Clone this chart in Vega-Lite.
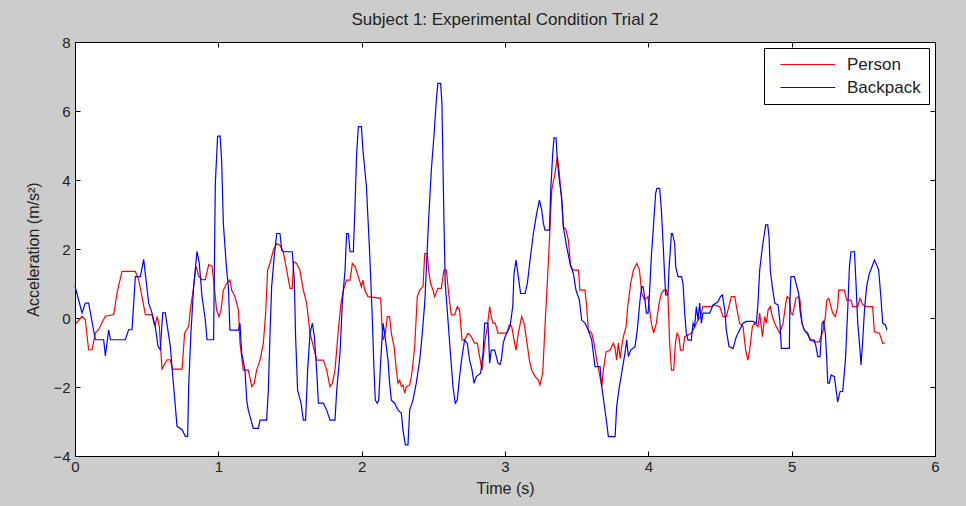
{
  "$schema": "https://vega.github.io/schema/vega-lite/v6.json",
  "width": 860,
  "height": 414,
  "autosize": {"type": "none"},
  "padding": {"left": 75, "top": 42, "right": 31, "bottom": 50},
  "background": "#cccccc",
  "title": {"text": "Subject 1: Experimental Condition Trial 2", "font": "Liberation Sans", "fontSize": 17, "fontWeight": "normal", "color": "#222222", "offset": 6, "anchor": "middle"},
  "config": {
    "view": {"fill": "white", "stroke": "black", "strokeWidth": 1},
    "axis": {"grid": false, "domainColor": "black", "tickColor": "black", "labelColor": "#222222", "titleColor": "#222222", "labelFont": "Liberation Sans", "titleFont": "Liberation Sans", "labelFontSize": 15, "titleFontSize": 16, "titleFontWeight": "normal", "tickSize": -5, "labelFlush": false, "labelOverlap": false}
  },
  "data": {"values": [
    {"s":"Person","t":0.007,"v":-0.16},{"s":"Person","t":0.049,"v":0.05},{"s":"Person","t":0.072,"v":-0.05},{"s":"Person","t":0.095,"v":-0.92},{"s":"Person","t":0.119,"v":-0.92},{"s":"Person","t":0.142,"v":-0.43},{"s":"Person","t":0.165,"v":-0.34},{"s":"Person","t":0.188,"v":-0.14},{"s":"Person","t":0.212,"v":0.05},{"s":"Person","t":0.27,"v":0.1},{"s":"Person","t":0.293,"v":0.72},{"s":"Person","t":0.328,"v":1.35},{"s":"Person","t":0.421,"v":1.35},{"s":"Person","t":0.444,"v":1.11},{"s":"Person","t":0.467,"v":0.63},{"s":"Person","t":0.491,"v":0.1},{"s":"Person","t":0.537,"v":0.1},{"s":"Person","t":0.556,"v":-0.24},{"s":"Person","t":0.574,"v":0.05},{"s":"Person","t":0.588,"v":-0.24},{"s":"Person","t":0.607,"v":-1.48},{"s":"Person","t":0.642,"v":-1.21},{"s":"Person","t":0.665,"v":-1.21},{"s":"Person","t":0.681,"v":-1.48},{"s":"Person","t":0.747,"v":-1.48},{"s":"Person","t":0.765,"v":-0.43},{"s":"Person","t":0.793,"v":-0.24},{"s":"Person","t":0.805,"v":0.24},{"s":"Person","t":0.828,"v":0.92},{"s":"Person","t":0.844,"v":1.5},{"s":"Person","t":0.863,"v":1.21},{"s":"Person","t":0.886,"v":1.11},{"s":"Person","t":0.909,"v":1.11},{"s":"Person","t":0.933,"v":1.55},{"s":"Person","t":0.956,"v":1.5},{"s":"Person","t":0.972,"v":0.9},{"s":"Person","t":0.988,"v":0.23},{"s":"Person","t":1.005,"v":0.04},{"s":"Person","t":1.019,"v":0.23},{"s":"Person","t":1.035,"v":0.81},{"s":"Person","t":1.058,"v":1.0},{"s":"Person","t":1.081,"v":1.1},{"s":"Person","t":1.093,"v":0.81},{"s":"Person","t":1.116,"v":0.62},{"s":"Person","t":1.14,"v":0.23},{"s":"Person","t":1.151,"v":-0.73},{"s":"Person","t":1.163,"v":-1.12},{"s":"Person","t":1.174,"v":-1.51},{"s":"Person","t":1.209,"v":-1.51},{"s":"Person","t":1.233,"v":-1.99},{"s":"Person","t":1.251,"v":-1.89},{"s":"Person","t":1.267,"v":-1.51},{"s":"Person","t":1.291,"v":-1.22},{"s":"Person","t":1.314,"v":-0.73},{"s":"Person","t":1.33,"v":0.14},{"s":"Person","t":1.344,"v":1.39},{"s":"Person","t":1.36,"v":1.58},{"s":"Person","t":1.384,"v":1.97},{"s":"Person","t":1.407,"v":2.16},{"s":"Person","t":1.43,"v":2.11},{"s":"Person","t":1.453,"v":1.92},{"s":"Person","t":1.477,"v":1.39},{"s":"Person","t":1.5,"v":0.86},{"s":"Person","t":1.516,"v":0.86},{"s":"Person","t":1.525,"v":1.63},{"s":"Person","t":1.546,"v":1.58},{"s":"Person","t":1.569,"v":1.39},{"s":"Person","t":1.593,"v":0.81},{"s":"Person","t":1.616,"v":0.43},{"s":"Person","t":1.64,"v":-0.44},{"s":"Person","t":1.663,"v":-0.83},{"s":"Person","t":1.686,"v":-1.22},{"s":"Person","t":1.733,"v":-1.22},{"s":"Person","t":1.756,"v":-1.51},{"s":"Person","t":1.779,"v":-1.99},{"s":"Person","t":1.796,"v":-1.89},{"s":"Person","t":1.814,"v":-1.51},{"s":"Person","t":1.837,"v":-0.35},{"s":"Person","t":1.856,"v":0.43},{"s":"Person","t":1.872,"v":0.81},{"s":"Person","t":1.895,"v":1.1},{"s":"Person","t":1.919,"v":1.1},{"s":"Person","t":1.935,"v":1.58},{"s":"Person","t":1.954,"v":1.49},{"s":"Person","t":1.977,"v":1.2},{"s":"Person","t":1.998,"v":0.91},{"s":"Person","t":2.009,"v":1.1},{"s":"Person","t":2.021,"v":0.81},{"s":"Person","t":2.044,"v":0.62},{"s":"Person","t":2.133,"v":0.57},{"s":"Person","t":2.142,"v":-0.25},{"s":"Person","t":2.149,"v":-0.64},{"s":"Person","t":2.165,"v":-0.44},{"s":"Person","t":2.179,"v":0.04},{"s":"Person","t":2.195,"v":0.04},{"s":"Person","t":2.207,"v":-0.44},{"s":"Person","t":2.226,"v":-0.83},{"s":"Person","t":2.242,"v":-1.51},{"s":"Person","t":2.254,"v":-1.89},{"s":"Person","t":2.265,"v":-1.8},{"s":"Person","t":2.277,"v":-1.99},{"s":"Person","t":2.288,"v":-1.94},{"s":"Person","t":2.3,"v":-2.18},{"s":"Person","t":2.312,"v":-1.99},{"s":"Person","t":2.335,"v":-1.94},{"s":"Person","t":2.347,"v":-1.7},{"s":"Person","t":2.358,"v":-1.31},{"s":"Person","t":2.37,"v":-0.83},{"s":"Person","t":2.388,"v":0.62},{"s":"Person","t":2.405,"v":0.81},{"s":"Person","t":2.428,"v":0.91},{"s":"Person","t":2.44,"v":1.87},{"s":"Person","t":2.458,"v":1.87},{"s":"Person","t":2.467,"v":1.39},{"s":"Person","t":2.481,"v":1.0},{"s":"Person","t":2.498,"v":0.81},{"s":"Person","t":2.509,"v":0.62},{"s":"Person","t":2.532,"v":0.86},{"s":"Person","t":2.556,"v":0.86},{"s":"Person","t":2.574,"v":1.39},{"s":"Person","t":2.591,"v":1.39},{"s":"Person","t":2.607,"v":0.71},{"s":"Person","t":2.625,"v":0.09},{"s":"Person","t":2.649,"v":0.09},{"s":"Person","t":2.667,"v":0.33},{"s":"Person","t":2.683,"v":0.23},{"s":"Person","t":2.7,"v":-0.64},{"s":"Person","t":2.718,"v":-0.64},{"s":"Person","t":2.742,"v":-0.44},{"s":"Person","t":2.765,"v":-0.54},{"s":"Person","t":2.788,"v":-0.73},{"s":"Person","t":2.807,"v":-0.73},{"s":"Person","t":2.823,"v":-1.12},{"s":"Person","t":2.84,"v":-1.51},{"s":"Person","t":2.858,"v":-0.73},{"s":"Person","t":2.877,"v":-0.25},{"s":"Person","t":2.893,"v":0.33},{"s":"Person","t":2.904,"v":0.04},{"s":"Person","t":2.916,"v":-0.15},{"s":"Person","t":2.932,"v":-0.15},{"s":"Person","t":2.951,"v":-0.44},{"s":"Person","t":3.012,"v":-0.44},{"s":"Person","t":3.03,"v":-0.2},{"s":"Person","t":3.047,"v":-0.25},{"s":"Person","t":3.063,"v":-0.64},{"s":"Person","t":3.077,"v":-0.93},{"s":"Person","t":3.093,"v":-0.44},{"s":"Person","t":3.116,"v":0.04},{"s":"Person","t":3.133,"v":-0.15},{"s":"Person","t":3.151,"v":-0.64},{"s":"Person","t":3.17,"v":-1.22},{"s":"Person","t":3.186,"v":-1.51},{"s":"Person","t":3.21,"v":-1.7},{"s":"Person","t":3.233,"v":-1.8},{"s":"Person","t":3.244,"v":-1.94},{"s":"Person","t":3.263,"v":-1.6},{"s":"Person","t":3.279,"v":-0.25},{"s":"Person","t":3.296,"v":1.1},{"s":"Person","t":3.31,"v":2.26},{"s":"Person","t":3.326,"v":3.71},{"s":"Person","t":3.349,"v":4.19},{"s":"Person","t":3.365,"v":4.68},{"s":"Person","t":3.379,"v":4.19},{"s":"Person","t":3.395,"v":3.42},{"s":"Person","t":3.407,"v":2.65},{"s":"Person","t":3.426,"v":2.55},{"s":"Person","t":3.442,"v":2.26},{"s":"Person","t":3.458,"v":1.49},{"s":"Person","t":3.477,"v":1.39},{"s":"Person","t":3.512,"v":1.39},{"s":"Person","t":3.523,"v":0.81},{"s":"Person","t":3.558,"v":0.81},{"s":"Person","t":3.57,"v":0.33},{"s":"Person","t":3.581,"v":-0.35},{"s":"Person","t":3.605,"v":-0.44},{"s":"Person","t":3.621,"v":-0.73},{"s":"Person","t":3.64,"v":-1.22},{"s":"Person","t":3.658,"v":-1.6},{"s":"Person","t":3.675,"v":-1.99},{"s":"Person","t":3.686,"v":-1.51},{"s":"Person","t":3.705,"v":-0.98},{"s":"Person","t":3.733,"v":-0.93},{"s":"Person","t":3.756,"v":-0.73},{"s":"Person","t":3.768,"v":-0.88},{"s":"Person","t":3.779,"v":-1.22},{"s":"Person","t":3.791,"v":-0.73},{"s":"Person","t":3.803,"v":-1.17},{"s":"Person","t":3.814,"v":-0.83},{"s":"Person","t":3.826,"v":-0.54},{"s":"Person","t":3.845,"v":-0.25},{"s":"Person","t":3.856,"v":0.33},{"s":"Person","t":3.877,"v":1.0},{"s":"Person","t":3.896,"v":1.39},{"s":"Person","t":3.919,"v":1.58},{"s":"Person","t":3.938,"v":1.39},{"s":"Person","t":3.954,"v":0.71},{"s":"Person","t":3.974,"v":0.52},{"s":"Person","t":3.998,"v":0.62},{"s":"Person","t":4.009,"v":0.23},{"s":"Person","t":4.021,"v":-0.15},{"s":"Person","t":4.037,"v":-0.44},{"s":"Person","t":4.056,"v":-0.15},{"s":"Person","t":4.075,"v":0.43},{"s":"Person","t":4.091,"v":0.71},{"s":"Person","t":4.107,"v":0.81},{"s":"Person","t":4.126,"v":0.81},{"s":"Person","t":4.137,"v":0.62},{"s":"Person","t":4.149,"v":-0.73},{"s":"Person","t":4.161,"v":-1.51},{"s":"Person","t":4.177,"v":-1.51},{"s":"Person","t":4.189,"v":-0.73},{"s":"Person","t":4.2,"v":-0.44},{"s":"Person","t":4.214,"v":-0.54},{"s":"Person","t":4.224,"v":-0.93},{"s":"Person","t":4.242,"v":-0.93},{"s":"Person","t":4.254,"v":-0.54},{"s":"Person","t":4.3,"v":-0.44},{"s":"Person","t":4.312,"v":-0.35},{"s":"Person","t":4.335,"v":-0.15},{"s":"Person","t":4.363,"v":0.04},{"s":"Person","t":4.381,"v":0.33},{"s":"Person","t":4.44,"v":0.33},{"s":"Person","t":4.463,"v":0.38},{"s":"Person","t":4.498,"v":0.33},{"s":"Person","t":4.521,"v":0.04},{"s":"Person","t":4.544,"v":0.04},{"s":"Person","t":4.568,"v":0.43},{"s":"Person","t":4.579,"v":0.62},{"s":"Person","t":4.603,"v":0.62},{"s":"Person","t":4.619,"v":0.23},{"s":"Person","t":4.637,"v":-0.15},{"s":"Person","t":4.661,"v":-0.25},{"s":"Person","t":4.679,"v":-0.93},{"s":"Person","t":4.695,"v":-1.22},{"s":"Person","t":4.707,"v":-0.93},{"s":"Person","t":4.726,"v":-0.25},{"s":"Person","t":4.742,"v":-0.15},{"s":"Person","t":4.765,"v":-0.25},{"s":"Person","t":4.777,"v":0.14},{"s":"Person","t":4.796,"v":-0.54},{"s":"Person","t":4.812,"v":0.04},{"s":"Person","t":4.824,"v":-0.15},{"s":"Person","t":4.835,"v":0.23},{"s":"Person","t":4.851,"v":0.33},{"s":"Person","t":4.865,"v":0.04},{"s":"Person","t":4.882,"v":-0.15},{"s":"Person","t":4.893,"v":-0.25},{"s":"Person","t":4.917,"v":-0.44},{"s":"Person","t":4.94,"v":-0.15},{"s":"Person","t":4.959,"v":0.43},{"s":"Person","t":4.968,"v":0.62},{"s":"Person","t":4.984,"v":0.57},{"s":"Person","t":4.995,"v":0.14},{"s":"Person","t":5.007,"v":0.09},{"s":"Person","t":5.018,"v":0.33},{"s":"Person","t":5.03,"v":0.57},{"s":"Person","t":5.049,"v":0.62},{"s":"Person","t":5.058,"v":0.52},{"s":"Person","t":5.072,"v":-0.15},{"s":"Person","t":5.088,"v":-0.35},{"s":"Person","t":5.105,"v":-0.44},{"s":"Person","t":5.119,"v":-0.54},{"s":"Person","t":5.135,"v":-0.64},{"s":"Person","t":5.158,"v":-0.69},{"s":"Person","t":5.193,"v":-0.69},{"s":"Person","t":5.205,"v":-0.54},{"s":"Person","t":5.221,"v":-0.35},{"s":"Person","t":5.235,"v":0.04},{"s":"Person","t":5.245,"v":0.52},{"s":"Person","t":5.259,"v":0.57},{"s":"Person","t":5.268,"v":0.43},{"s":"Person","t":5.286,"v":0.14},{"s":"Person","t":5.305,"v":0.04},{"s":"Person","t":5.321,"v":0.33},{"s":"Person","t":5.328,"v":0.81},{"s":"Person","t":5.368,"v":0.81},{"s":"Person","t":5.384,"v":0.52},{"s":"Person","t":5.414,"v":0.52},{"s":"Person","t":5.426,"v":0.33},{"s":"Person","t":5.461,"v":0.33},{"s":"Person","t":5.477,"v":0.57},{"s":"Person","t":5.496,"v":0.38},{"s":"Person","t":5.519,"v":0.33},{"s":"Person","t":5.565,"v":0.33},{"s":"Person","t":5.577,"v":-0.4},{"s":"Person","t":5.612,"v":-0.44},{"s":"Person","t":5.635,"v":-0.73},{"s":"Person","t":5.65,"v":-0.73},
    {"s":"Backpack","t":0.0,"v":0.92},{"s":"Backpack","t":0.049,"v":0.15},{"s":"Backpack","t":0.072,"v":0.43},{"s":"Backpack","t":0.095,"v":0.43},{"s":"Backpack","t":0.142,"v":-0.63},{"s":"Backpack","t":0.2,"v":-0.63},{"s":"Backpack","t":0.212,"v":-1.1},{"s":"Backpack","t":0.235,"v":-0.34},{"s":"Backpack","t":0.247,"v":-0.63},{"s":"Backpack","t":0.351,"v":-0.63},{"s":"Backpack","t":0.374,"v":-0.34},{"s":"Backpack","t":0.398,"v":-0.34},{"s":"Backpack","t":0.421,"v":1.2},{"s":"Backpack","t":0.456,"v":1.2},{"s":"Backpack","t":0.479,"v":1.7},{"s":"Backpack","t":0.514,"v":0.43},{"s":"Backpack","t":0.537,"v":0.15},{"s":"Backpack","t":0.56,"v":-0.24},{"s":"Backpack","t":0.579,"v":-0.82},{"s":"Backpack","t":0.595,"v":-0.92},{"s":"Backpack","t":0.612,"v":0.15},{"s":"Backpack","t":0.63,"v":0.15},{"s":"Backpack","t":0.665,"v":-0.82},{"s":"Backpack","t":0.688,"v":-1.98},{"s":"Backpack","t":0.712,"v":-3.14},{"s":"Backpack","t":0.747,"v":-3.24},{"s":"Backpack","t":0.77,"v":-3.43},{"s":"Backpack","t":0.786,"v":-3.43},{"s":"Backpack","t":0.793,"v":-1.98},{"s":"Backpack","t":0.809,"v":-0.43},{"s":"Backpack","t":0.828,"v":0.92},{"s":"Backpack","t":0.851,"v":1.93},{"s":"Backpack","t":0.867,"v":1.59},{"s":"Backpack","t":0.886,"v":0.63},{"s":"Backpack","t":0.909,"v":-0.05},{"s":"Backpack","t":0.921,"v":-0.63},{"s":"Backpack","t":0.967,"v":-0.63},{"s":"Backpack","t":0.979,"v":3.9},{"s":"Backpack","t":0.995,"v":5.27},{"s":"Backpack","t":1.012,"v":5.28},{"s":"Backpack","t":1.023,"v":4.58},{"s":"Backpack","t":1.035,"v":2.74},{"s":"Backpack","t":1.058,"v":1.39},{"s":"Backpack","t":1.07,"v":0.91},{"s":"Backpack","t":1.081,"v":-0.35},{"s":"Backpack","t":1.14,"v":-0.35},{"s":"Backpack","t":1.151,"v":-0.15},{"s":"Backpack","t":1.163,"v":-1.02},{"s":"Backpack","t":1.186,"v":-1.51},{"s":"Backpack","t":1.198,"v":-2.38},{"s":"Backpack","t":1.209,"v":-2.67},{"s":"Backpack","t":1.244,"v":-3.2},{"s":"Backpack","t":1.279,"v":-3.2},{"s":"Backpack","t":1.291,"v":-2.96},{"s":"Backpack","t":1.337,"v":-2.96},{"s":"Backpack","t":1.349,"v":-2.09},{"s":"Backpack","t":1.36,"v":-0.54},{"s":"Backpack","t":1.372,"v":0.91},{"s":"Backpack","t":1.39,"v":1.78},{"s":"Backpack","t":1.407,"v":2.45},{"s":"Backpack","t":1.43,"v":2.45},{"s":"Backpack","t":1.442,"v":1.97},{"s":"Backpack","t":1.453,"v":1.92},{"s":"Backpack","t":1.516,"v":1.92},{"s":"Backpack","t":1.53,"v":1.1},{"s":"Backpack","t":1.539,"v":-0.54},{"s":"Backpack","t":1.553,"v":-2.09},{"s":"Backpack","t":1.577,"v":-2.47},{"s":"Backpack","t":1.593,"v":-2.96},{"s":"Backpack","t":1.609,"v":-2.96},{"s":"Backpack","t":1.623,"v":-1.51},{"s":"Backpack","t":1.64,"v":-0.44},{"s":"Backpack","t":1.656,"v":-0.15},{"s":"Backpack","t":1.67,"v":-0.54},{"s":"Backpack","t":1.686,"v":-1.51},{"s":"Backpack","t":1.698,"v":-2.47},{"s":"Backpack","t":1.733,"v":-2.47},{"s":"Backpack","t":1.756,"v":-2.67},{"s":"Backpack","t":1.779,"v":-2.96},{"s":"Backpack","t":1.814,"v":-2.96},{"s":"Backpack","t":1.826,"v":-2.09},{"s":"Backpack","t":1.849,"v":-1.02},{"s":"Backpack","t":1.865,"v":0.43},{"s":"Backpack","t":1.884,"v":1.39},{"s":"Backpack","t":1.895,"v":2.45},{"s":"Backpack","t":1.907,"v":2.45},{"s":"Backpack","t":1.919,"v":1.92},{"s":"Backpack","t":1.942,"v":1.92},{"s":"Backpack","t":1.954,"v":3.32},{"s":"Backpack","t":1.965,"v":4.77},{"s":"Backpack","t":1.977,"v":5.55},{"s":"Backpack","t":1.998,"v":5.55},{"s":"Backpack","t":2.009,"v":4.87},{"s":"Backpack","t":2.033,"v":3.81},{"s":"Backpack","t":2.056,"v":1.87},{"s":"Backpack","t":2.072,"v":0.23},{"s":"Backpack","t":2.086,"v":-1.51},{"s":"Backpack","t":2.095,"v":-2.38},{"s":"Backpack","t":2.109,"v":-2.47},{"s":"Backpack","t":2.119,"v":-2.38},{"s":"Backpack","t":2.133,"v":-1.22},{"s":"Backpack","t":2.149,"v":-0.15},{"s":"Backpack","t":2.16,"v":-0.44},{"s":"Backpack","t":2.184,"v":-1.22},{"s":"Backpack","t":2.195,"v":-1.89},{"s":"Backpack","t":2.207,"v":-2.38},{"s":"Backpack","t":2.23,"v":-2.47},{"s":"Backpack","t":2.254,"v":-2.67},{"s":"Backpack","t":2.277,"v":-2.76},{"s":"Backpack","t":2.288,"v":-3.25},{"s":"Backpack","t":2.305,"v":-3.68},{"s":"Backpack","t":2.323,"v":-3.68},{"s":"Backpack","t":2.335,"v":-2.67},{"s":"Backpack","t":2.358,"v":-2.38},{"s":"Backpack","t":2.381,"v":-1.89},{"s":"Backpack","t":2.405,"v":-1.22},{"s":"Backpack","t":2.421,"v":-0.54},{"s":"Backpack","t":2.44,"v":0.43},{"s":"Backpack","t":2.451,"v":1.39},{"s":"Backpack","t":2.467,"v":2.84},{"s":"Backpack","t":2.486,"v":4.29},{"s":"Backpack","t":2.504,"v":5.26},{"s":"Backpack","t":2.521,"v":6.32},{"s":"Backpack","t":2.532,"v":6.8},{"s":"Backpack","t":2.551,"v":6.8},{"s":"Backpack","t":2.56,"v":6.22},{"s":"Backpack","t":2.574,"v":2.84},{"s":"Backpack","t":2.583,"v":1.0},{"s":"Backpack","t":2.597,"v":0.23},{"s":"Backpack","t":2.614,"v":-0.73},{"s":"Backpack","t":2.637,"v":-1.99},{"s":"Backpack","t":2.653,"v":-2.47},{"s":"Backpack","t":2.667,"v":-2.38},{"s":"Backpack","t":2.683,"v":-1.7},{"s":"Backpack","t":2.7,"v":-1.12},{"s":"Backpack","t":2.718,"v":-0.64},{"s":"Backpack","t":2.737,"v":-0.73},{"s":"Backpack","t":2.753,"v":-1.22},{"s":"Backpack","t":2.77,"v":-1.51},{"s":"Backpack","t":2.784,"v":-1.89},{"s":"Backpack","t":2.8,"v":-1.7},{"s":"Backpack","t":2.83,"v":-1.6},{"s":"Backpack","t":2.847,"v":-1.02},{"s":"Backpack","t":2.858,"v":-0.15},{"s":"Backpack","t":2.881,"v":-0.15},{"s":"Backpack","t":2.893,"v":-1.31},{"s":"Backpack","t":2.904,"v":-0.93},{"s":"Backpack","t":2.928,"v":-0.93},{"s":"Backpack","t":2.951,"v":-1.31},{"s":"Backpack","t":2.965,"v":-1.35},{"s":"Backpack","t":2.974,"v":-1.22},{"s":"Backpack","t":2.988,"v":-0.73},{"s":"Backpack","t":3.0,"v":-0.55},{"s":"Backpack","t":3.012,"v":-0.44},{"s":"Backpack","t":3.035,"v":-0.25},{"s":"Backpack","t":3.054,"v":0.33},{"s":"Backpack","t":3.063,"v":1.29},{"s":"Backpack","t":3.077,"v":1.68},{"s":"Backpack","t":3.093,"v":1.2},{"s":"Backpack","t":3.109,"v":0.71},{"s":"Backpack","t":3.14,"v":0.71},{"s":"Backpack","t":3.156,"v":1.0},{"s":"Backpack","t":3.175,"v":1.68},{"s":"Backpack","t":3.198,"v":2.45},{"s":"Backpack","t":3.221,"v":3.03},{"s":"Backpack","t":3.24,"v":3.42},{"s":"Backpack","t":3.256,"v":3.13},{"s":"Backpack","t":3.268,"v":2.74},{"s":"Backpack","t":3.279,"v":2.55},{"s":"Backpack","t":3.31,"v":2.55},{"s":"Backpack","t":3.319,"v":3.71},{"s":"Backpack","t":3.333,"v":4.77},{"s":"Backpack","t":3.342,"v":5.22},{"s":"Backpack","t":3.356,"v":5.22},{"s":"Backpack","t":3.365,"v":4.58},{"s":"Backpack","t":3.379,"v":4.0},{"s":"Backpack","t":3.395,"v":3.52},{"s":"Backpack","t":3.407,"v":2.65},{"s":"Backpack","t":3.43,"v":2.07},{"s":"Backpack","t":3.454,"v":1.58},{"s":"Backpack","t":3.477,"v":1.29},{"s":"Backpack","t":3.495,"v":0.81},{"s":"Backpack","t":3.519,"v":0.52},{"s":"Backpack","t":3.535,"v":-0.06},{"s":"Backpack","t":3.558,"v":-0.15},{"s":"Backpack","t":3.581,"v":-0.35},{"s":"Backpack","t":3.605,"v":-0.64},{"s":"Backpack","t":3.628,"v":-1.41},{"s":"Backpack","t":3.663,"v":-1.41},{"s":"Backpack","t":3.675,"v":-1.99},{"s":"Backpack","t":3.691,"v":-2.47},{"s":"Backpack","t":3.71,"v":-3.05},{"s":"Backpack","t":3.721,"v":-3.44},{"s":"Backpack","t":3.768,"v":-3.44},{"s":"Backpack","t":3.779,"v":-2.57},{"s":"Backpack","t":3.798,"v":-1.99},{"s":"Backpack","t":3.814,"v":-1.6},{"s":"Backpack","t":3.837,"v":-1.02},{"s":"Backpack","t":3.849,"v":-0.64},{"s":"Backpack","t":3.861,"v":-1.12},{"s":"Backpack","t":3.877,"v":-0.93},{"s":"Backpack","t":3.907,"v":-0.83},{"s":"Backpack","t":3.923,"v":-0.35},{"s":"Backpack","t":3.942,"v":0.52},{"s":"Backpack","t":3.954,"v":0.91},{"s":"Backpack","t":3.963,"v":0.91},{"s":"Backpack","t":3.974,"v":0.62},{"s":"Backpack","t":3.986,"v":0.14},{"s":"Backpack","t":3.998,"v":0.14},{"s":"Backpack","t":4.007,"v":0.62},{"s":"Backpack","t":4.021,"v":1.78},{"s":"Backpack","t":4.037,"v":2.74},{"s":"Backpack","t":4.051,"v":3.61},{"s":"Backpack","t":4.06,"v":3.76},{"s":"Backpack","t":4.079,"v":3.76},{"s":"Backpack","t":4.091,"v":3.13},{"s":"Backpack","t":4.103,"v":2.16},{"s":"Backpack","t":4.114,"v":1.2},{"s":"Backpack","t":4.121,"v":0.67},{"s":"Backpack","t":4.137,"v":0.67},{"s":"Backpack","t":4.144,"v":1.39},{"s":"Backpack","t":4.161,"v":2.45},{"s":"Backpack","t":4.168,"v":2.45},{"s":"Backpack","t":4.184,"v":2.16},{"s":"Backpack","t":4.191,"v":1.49},{"s":"Backpack","t":4.207,"v":1.2},{"s":"Backpack","t":4.231,"v":1.2},{"s":"Backpack","t":4.242,"v":1.01},{"s":"Backpack","t":4.254,"v":0.14},{"s":"Backpack","t":4.265,"v":-0.44},{"s":"Backpack","t":4.277,"v":-0.64},{"s":"Backpack","t":4.3,"v":-0.64},{"s":"Backpack","t":4.312,"v":-0.15},{"s":"Backpack","t":4.323,"v":-0.25},{"s":"Backpack","t":4.335,"v":0.33},{"s":"Backpack","t":4.347,"v":-0.06},{"s":"Backpack","t":4.358,"v":0.43},{"s":"Backpack","t":4.37,"v":-0.15},{"s":"Backpack","t":4.381,"v":0.14},{"s":"Backpack","t":4.428,"v":0.14},{"s":"Backpack","t":4.452,"v":0.38},{"s":"Backpack","t":4.486,"v":0.47},{"s":"Backpack","t":4.503,"v":0.62},{"s":"Backpack","t":4.517,"v":0.67},{"s":"Backpack","t":4.533,"v":0.23},{"s":"Backpack","t":4.544,"v":-0.35},{"s":"Backpack","t":4.563,"v":-0.83},{"s":"Backpack","t":4.591,"v":-0.88},{"s":"Backpack","t":4.614,"v":-0.54},{"s":"Backpack","t":4.637,"v":-0.35},{"s":"Backpack","t":4.661,"v":-0.15},{"s":"Backpack","t":4.684,"v":-0.1},{"s":"Backpack","t":4.73,"v":-0.1},{"s":"Backpack","t":4.754,"v":-0.15},{"s":"Backpack","t":4.765,"v":0.43},{"s":"Backpack","t":4.777,"v":1.39},{"s":"Backpack","t":4.796,"v":2.07},{"s":"Backpack","t":4.819,"v":2.7},{"s":"Backpack","t":4.833,"v":2.7},{"s":"Backpack","t":4.842,"v":2.36},{"s":"Backpack","t":4.851,"v":1.39},{"s":"Backpack","t":4.865,"v":0.91},{"s":"Backpack","t":4.882,"v":0.43},{"s":"Backpack","t":4.905,"v":0.38},{"s":"Backpack","t":4.917,"v":-0.06},{"s":"Backpack","t":4.928,"v":-0.88},{"s":"Backpack","t":4.984,"v":-0.88},{"s":"Backpack","t":4.988,"v":0.52},{"s":"Backpack","t":4.995,"v":1.2},{"s":"Backpack","t":5.018,"v":1.2},{"s":"Backpack","t":5.03,"v":1.01},{"s":"Backpack","t":5.049,"v":0.71},{"s":"Backpack","t":5.058,"v":0.23},{"s":"Backpack","t":5.072,"v":-0.15},{"s":"Backpack","t":5.088,"v":-0.35},{"s":"Backpack","t":5.112,"v":-0.44},{"s":"Backpack","t":5.128,"v":-0.64},{"s":"Backpack","t":5.158,"v":-0.64},{"s":"Backpack","t":5.17,"v":-0.83},{"s":"Backpack","t":5.182,"v":-1.12},{"s":"Backpack","t":5.198,"v":-1.12},{"s":"Backpack","t":5.212,"v":-0.15},{"s":"Backpack","t":5.221,"v":-0.1},{"s":"Backpack","t":5.235,"v":-0.44},{"s":"Backpack","t":5.245,"v":-1.22},{"s":"Backpack","t":5.252,"v":-1.89},{"s":"Backpack","t":5.263,"v":-1.89},{"s":"Backpack","t":5.275,"v":-1.65},{"s":"Backpack","t":5.298,"v":-1.7},{"s":"Backpack","t":5.31,"v":-2.09},{"s":"Backpack","t":5.321,"v":-2.43},{"s":"Backpack","t":5.338,"v":-2.13},{"s":"Backpack","t":5.356,"v":-2.13},{"s":"Backpack","t":5.375,"v":-1.22},{"s":"Backpack","t":5.391,"v":0.23},{"s":"Backpack","t":5.403,"v":1.49},{"s":"Backpack","t":5.414,"v":1.92},{"s":"Backpack","t":5.438,"v":1.92},{"s":"Backpack","t":5.45,"v":0.91},{"s":"Backpack","t":5.461,"v":-0.15},{"s":"Backpack","t":5.473,"v":-0.73},{"s":"Backpack","t":5.484,"v":-1.36},{"s":"Backpack","t":5.496,"v":-0.64},{"s":"Backpack","t":5.508,"v":0.23},{"s":"Backpack","t":5.523,"v":0.91},{"s":"Backpack","t":5.542,"v":1.29},{"s":"Backpack","t":5.561,"v":1.49},{"s":"Backpack","t":5.577,"v":1.68},{"s":"Backpack","t":5.593,"v":1.54},{"s":"Backpack","t":5.607,"v":1.39},{"s":"Backpack","t":5.624,"v":0.52},{"s":"Backpack","t":5.635,"v":-0.15},{"s":"Backpack","t":5.654,"v":-0.2},{"s":"Backpack","t":5.665,"v":-0.35}
  ]},
  "resolve": {"axis": {"x": "independent", "y": "independent"}},
  "layer": [
    {
      "mark": {"type": "line", "strokeWidth": 1.2, "interpolate": "linear"},
      "encoding": {
        "x": {"field": "t", "type": "quantitative", "scale": {"domain": [0, 6], "nice": false, "zero": false}, "axis": {"title": "Time (s)", "values": [0,1,2,3,4,5,6], "labelPadding": 8, "titlePadding": 6}},
        "y": {"field": "v", "type": "quantitative", "scale": {"domain": [-4, 8], "nice": false, "zero": false}, "axis": {"title": "Acceleration (m/s²)", "values": [-4,-2,0,2,4,6,8], "labelPadding": 10, "titlePadding": 11}},
        "color": {"field": "s", "type": "nominal", "sort": ["Person", "Backpack"], "scale": {"domain": ["Person", "Backpack"], "range": ["#ff0000", "#0000ff"]},
          "legend": {"title": null, "orient": "top-right", "offset": 6, "symbolType": "M0,0H20", "symbolSize": 30, "symbolStrokeWidth": 1.2, "labelFont": "Liberation Sans", "labelFontSize": 17, "labelColor": "#222222", "strokeColor": "black", "fillColor": "white", "padding": 8, "rowPadding": 5, "labelOffset": 58}},
        "order": {"field": "t", "type": "quantitative"}
      }
    },
    {
      "mark": {"type": "point", "opacity": 0},
      "encoding": {
        "x": {"field": "t", "type": "quantitative", "scale": {"domain": [0, 6], "nice": false, "zero": false}, "axis": {"title": null, "labels": false, "values": [0,1,2,3,4,5,6], "domain": false}},
        "y": {"field": "v", "type": "quantitative", "scale": {"domain": [-4, 8], "nice": false, "zero": false}, "axis": {"title": null, "labels": false, "values": [-4,-2,0,2,4,6,8], "domain": false}}
      }
    }
  ]
}
